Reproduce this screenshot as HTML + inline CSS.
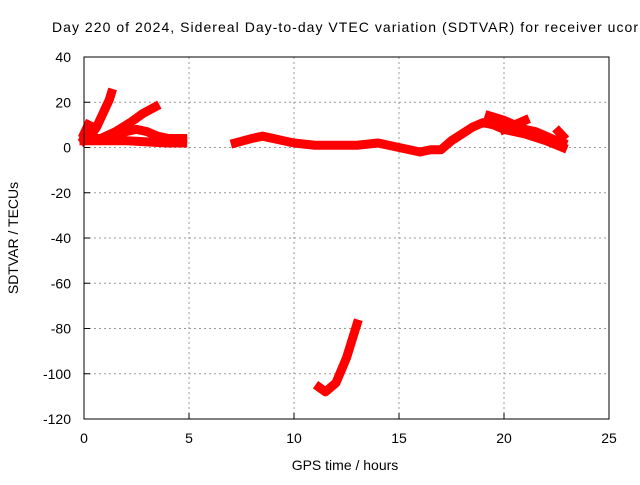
<!DOCTYPE html>
<html><head><meta charset="utf-8"><style>
body{margin:0;background:#fff}
svg text{font-family:"Liberation Sans",sans-serif;font-size:14px;fill:#000}
</style></head><body>
<svg id="c" width="640" height="480">
<text x="52" y="32" textLength="586" lengthAdjust="spacing">Day 220 of 2024, Sidereal Day-to-day VTEC variation (SDTVAR) for receiver ucor</text>
<text x="345" y="470" text-anchor="middle">GPS time / hours</text>
<text transform="translate(18,238) rotate(-90)" text-anchor="middle">SDTVAR / TECUs</text>
<g id="grid"></g><g id="marks"></g>
<rect x="84" y="57" width="525" height="362" fill="none" stroke="#000"/>
</svg>
<script>
const xTicks=[0,5,10,15,20,25];
const yTicks=[40,20,0,-20,-40,-60,-80,-100,-120];
const seriesA=[[0,3],[0.3,5],[0.6,9],[0.9,15],[1.2,21],[1.3,24]];
const seriesB=[[0.8,4],[1.5,7],[2.2,11],[2.8,15],[3.4,18]];
const seriesC=[[0,5],[0.5,4],[1,4],[1.5,5],[2,7],[2.5,8],[3,7],[3.5,5],[4,4],[4.7,4]];
const seriesD=[[0,3],[1,3],[2,3],[3,2.5],[4,2],[4.7,2]];
const seriesE=[[0,6],[0.2,10]];
const seriesF=[[7.2,2],[7.6,3],[8,4],[8.5,5],[9,4],[9.5,3],[10,2],[11,1],[12,1],[13,1],[13.5,1.5],[14,2],[14.5,1],[15,0],[15.5,-1],[16,-2],[16.5,-1],[17,-1],[17.5,3],[18,6],[18.5,9],[19,11],[19.5,10],[20,8],[21,6],[22,3],[22.8,0]];
const seriesG=[[19.3,14],[20,12],[20.5,10],[21,8],[21.5,7],[22,5],[22.5,3],[22.8,2]];
const seriesH=[[20,8],[20.5,10],[21,12]];
const seriesI=[[22.6,7],[22.8,5]];
const seriesJ=[[11.2,-106],[11.5,-108],[12,-104],[12.5,-93],[13,-78]];
const allSeries=[seriesA,seriesB,seriesC,seriesD,seriesE,seriesF,seriesG,seriesH,seriesI,seriesJ];
const X=v=>84+v*21, Y=v=>57+(40-v)*362/160;
const NS="http://www.w3.org/2000/svg";
const g=document.getElementById('grid'), m=document.getElementById('marks');
function mk(t,a,p){const e=document.createElementNS(NS,t);for(const k in a)e.setAttribute(k,a[k]);p.appendChild(e);return e;}
xTicks.forEach(t=>{
 if(t>0&&t<25){const l=mk('line',{x1:X(t),x2:X(t),y1:57,y2:419,stroke:'#999','stroke-dasharray':'2,3'},g);
 
 }
 const k=mk('line',{x1:X(t),x2:X(t),y1:419,y2:413,stroke:'#000'},g);
 
 
 const tx=mk('text',{x:X(t),y:443,'text-anchor':'middle'},g);tx.textContent=t;
 
 
});
yTicks.forEach(t=>{
 if(t<40&&t>-120){const l=mk('line',{x1:84,x2:609,y1:Y(t),y2:Y(t),stroke:'#999','stroke-dasharray':'2,3'},g);
 
 }
 const k=mk('line',{x1:84,x2:90,y1:Y(t),y2:Y(t),stroke:'#000'},g);
 
 
 const tx=mk('text',{x:71,y:Y(t)+5,'text-anchor':'end'},g);tx.textContent=t;
 
 
});
allSeries.forEach((s,i)=>{
 const p=mk('polyline',{points:s.map(d=>X(d[0])+','+Y(d[1])).join(' '),fill:'none',stroke:'#f00','stroke-width':9,'stroke-linejoin':'round','stroke-linecap':'square'},m);
 
 
});
</script>
</body></html>
